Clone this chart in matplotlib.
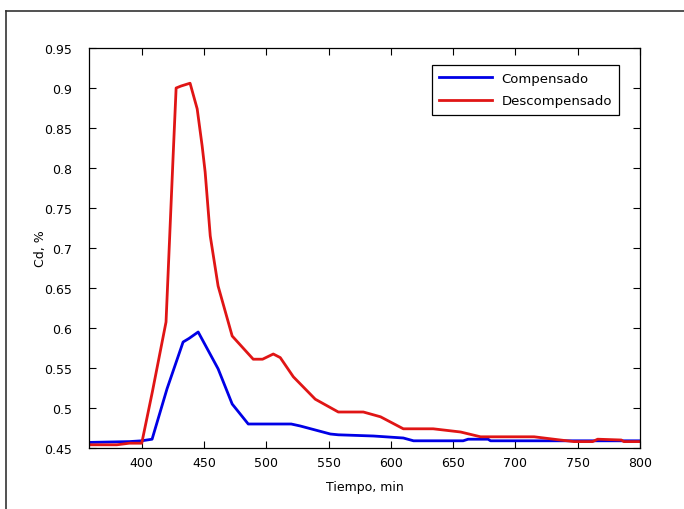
import numpy as np
import matplotlib
matplotlib.use("Agg")
import matplotlib.pyplot as plt
from matplotlib.lines import Line2D

plt.rcParams['font.family'] = ['DejaVu Sans']

# Descompensado (red)
t_desc = [358, 380, 390, 400, 408.5, 419.5, 425.2, 427.6, 431.6, 438.8, 441.2,
          444.5, 448.5, 450.9, 455, 461.3, 472.6, 489.5, 497, 505.6, 511.2,
          521.7, 539.3, 557.8, 577.9, 591.7, 610, 634, 656, 672, 715, 736,
          747, 762, 766, 785, 787, 800]
cd_desc = [0.454, 0.454, 0.456, 0.456, 0.520, 0.6075, 0.815, 0.900, 0.9025,
           0.906, 0.8925, 0.874, 0.8275, 0.795, 0.715, 0.6525, 0.590, 0.561,
           0.561, 0.5675, 0.563, 0.539, 0.511, 0.495, 0.495, 0.489, 0.474,
           0.474, 0.470, 0.464, 0.464, 0.460, 0.458, 0.458, 0.461, 0.460,
           0.458, 0.458]

# Compensado (blue)
t_comp = [358, 390, 400, 408.3, 420.3, 433.2, 438, 445.3, 461.3, 472.6, 485.5,
          487.1, 520, 527.3, 551.4, 557.8, 586, 610, 618.2, 658, 662, 678,
          680, 800]
cd_comp = [0.457, 0.458, 0.459, 0.461, 0.524, 0.5825, 0.587, 0.595, 0.549,
           0.505, 0.480, 0.480, 0.480, 0.4775, 0.4675, 0.4665, 0.465, 0.4625,
           0.459, 0.459, 0.461, 0.461, 0.459, 0.459]

x_ticks = [400, 450, 500, 550, 600, 650, 700, 750, 800]
y_ticks = [0.45, 0.5, 0.55, 0.6, 0.65, 0.7, 0.75, 0.8, 0.85, 0.9, 0.95]
y_ticklabels = ['0.45', '0.5', '0.55', '0.6', '0.65', '0.7', '0.75', '0.8',
                '0.85', '0.9', '0.95']

fig = plt.figure(figsize=(6.84, 5.10), dpi=100)
ax = fig.add_axes([0.130, 0.1196, 0.8057, 0.7843])

ax.plot(t_comp, cd_comp, color='#0000e6', lw=2, label='Compensado')
ax.plot(t_desc, cd_desc, color='#e01515', lw=2, label='Descompensado')

ax.set_xlim(357.6, 800)
ax.set_ylim(0.45, 0.95)
ax.set_xticks(x_ticks)
ax.set_yticks(y_ticks)
ax.set_yticklabels(y_ticklabels)
ax.tick_params(direction='in', top=True, right=True, length=5, width=0.8,
               labelsize=9)
ax.tick_params(axis='y', pad=12)
ax.tick_params(axis='x', pad=6)
for s in ax.spines.values():
    s.set_linewidth(0.9)

ax.set_xlabel('Tiempo, min', fontsize=9, labelpad=8)
ax.set_ylabel('Cd, %', fontsize=9, labelpad=-2)

leg = ax.legend(loc='upper right', bbox_to_anchor=(0.962, 0.958), fontsize=9.5,
                fancybox=False, framealpha=1, edgecolor='black',
                handlelength=4.0, handletextpad=0.7, borderpad=0.55,
                labelspacing=0.7, borderaxespad=0)
leg.get_frame().set_linewidth(0.9)

# outer border of the figure
fig.add_artist(Line2D([0.0088, 1.0], [0.9765, 0.9765], color='#333333', lw=1.2))
fig.add_artist(Line2D([0.0088, 0.0088], [0.0, 0.9765], color='#333333', lw=1.2))

fig.savefig('out.png', dpi=100)
